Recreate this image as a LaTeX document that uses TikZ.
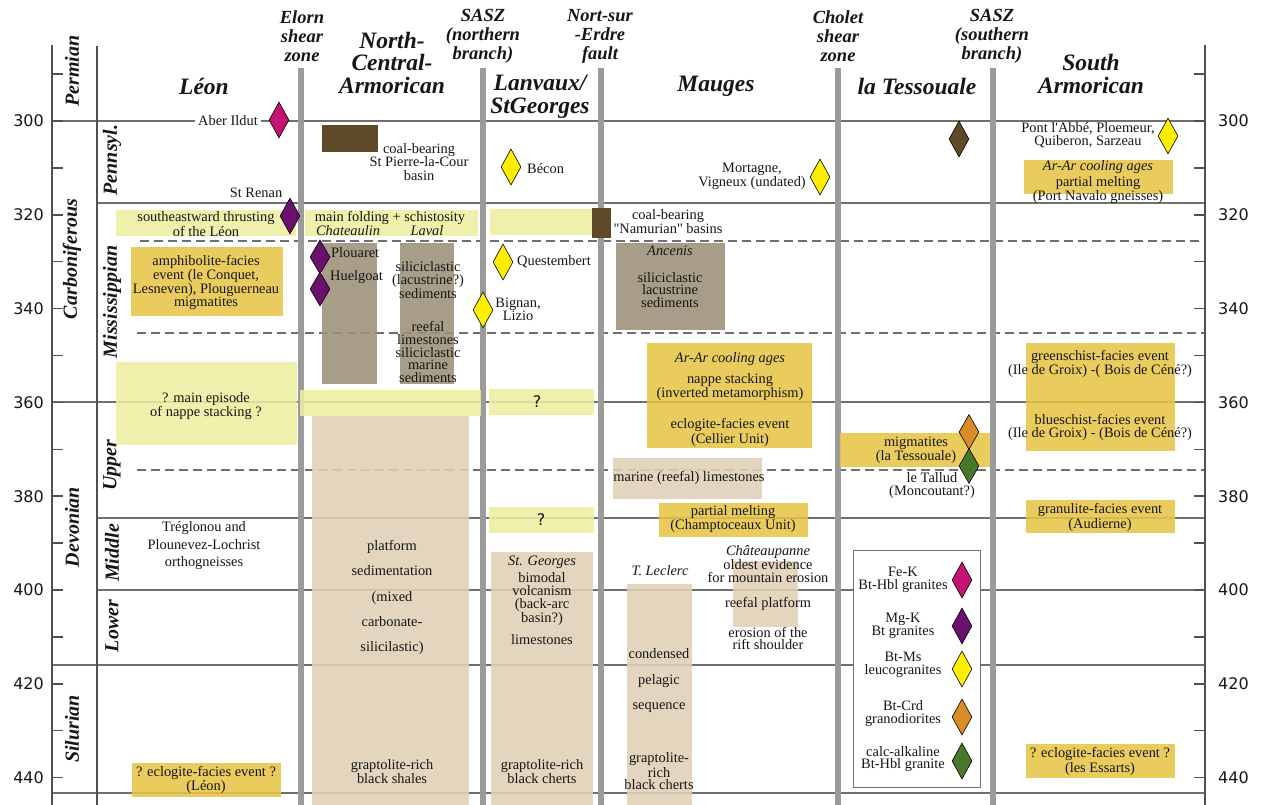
\documentclass[tikz,border=0pt]{standalone}
\usepackage{fontspec}
\setmainfont{Liberation Serif}
\newfontfamily\numfont{DejaVu Sans}
\usetikzlibrary{shapes.geometric}
\definecolor{lyel}{RGB}{236,238,160}
\definecolor{gold}{RGB}{232,196,72}
\definecolor{gbrown}{RGB}{157,144,120}
\definecolor{beige}{RGB}{224,208,182}
\definecolor{coal}{RGB}{94,74,40}
\definecolor{dmag}{RGB}{196,18,112}
\definecolor{dpur}{RGB}{106,16,110}
\definecolor{dyel}{RGB}{255,238,0}
\definecolor{dora}{RGB}{218,140,38}
\definecolor{dgre}{RGB}{70,122,42}
\definecolor{sepc}{RGB}{155,155,155}
\definecolor{hline}{RGB}{112,112,112}
\definecolor{axisc}{RGB}{80,80,80}
\definecolor{ink}{RGB}{22,22,22}
\begin{document}
\begin{tikzpicture}[x=1pt,y=-1pt,
 txt/.style={font=\fontsize{14.4}{12.8}\selectfont, align=center, inner sep=0pt, text=ink},
 itxt/.style={font=\fontsize{14.4}{12.8}\selectfont\itshape, align=center, inner sep=0pt, text=ink},
 hdr/.style={font=\fontsize{23.5}{22.5}\selectfont\bfseries\itshape, align=center, inner sep=0pt, text=ink},
 shdr/.style={font=\fontsize{18.5}{19}\selectfont\bfseries\itshape, align=center, inner sep=0pt, text=ink},
 per/.style={font=\fontsize{20}{20}\selectfont\bfseries\itshape, rotate=90, inner sep=0pt, text=ink},
 num/.style={font=\numfont\fontsize{16}{16}\selectfont, inner sep=0pt, text=ink},
 gem/.style={diamond, draw=black, line width=0.6pt, minimum width=20pt, minimum height=36pt, inner sep=0pt},
 hl/.style={draw=hline, line width=1.4pt},
 dl/.style={draw=hline, line width=1.3pt, dash pattern=on 9pt off 5pt},
 sepl/.style={draw=sepc, line width=5.5pt},
 bx/.style={fill opacity=0.88},
]
\useasboundingbox (0,0) rectangle (1261,805);
\fill[white] (0,0) rectangle (1261,805);
% horizontal lines
\draw[hl] (52,121) -- (1205,121);
\draw[hl] (97,203) -- (1205,203);
\draw[hl] (52,402) -- (1205,402);
\draw[hl] (97,518) -- (1205,518);
\draw[hl] (97,590) -- (1205,590);
\draw[hl] (52,665) -- (1205,665);
\draw[hl] (52,793) -- (1205,793);
\draw[dl] (140,241) -- (1205,241);
\draw[dl] (137,333) -- (1205,333);
\draw[dl] (137,470) -- (1205,470);
% separators
\foreach \sx in {301,483,601,838,993} \draw[sepl] (\sx,68) -- (\sx,805);
% boxes Leon
\fill[lyel,bx] (116,210) rectangle (296,236);
\fill[gold,bx] (131,247) rectangle (283,316);
\fill[lyel,bx] (116,362) rectangle (297,445);
\fill[gold,bx] (132,763) rectangle (281,797);
% NCA
\fill[coal] (322,125) rectangle (378,152);
\fill[lyel,bx] (305,210) rectangle (478,236);
\fill[gbrown,bx] (322,243) rectangle (377,384);
\fill[gbrown,bx] (400,243) rectangle (454,384);
\fill[lyel,bx] (300,390) rectangle (481,416);
\fill[beige,bx] (312,416) rectangle (469,805);
% Lanvaux
\fill[lyel,bx] (490,209) rectangle (592,235);
\fill[coal] (592,208) rectangle (611,238);
\fill[lyel,bx] (489,389) rectangle (594,415);
\fill[lyel,bx] (489,507) rectangle (594,533);
\fill[beige,bx] (491,552) rectangle (593,805);
% Mauges
\fill[gbrown,bx] (616,243) rectangle (725,330);
\fill[gold,bx] (647,343) rectangle (812,448);
\fill[beige,bx] (613,458) rectangle (762,499);
\fill[gold,bx] (659,503) rectangle (808,537);
\fill[beige,bx] (627,584) rectangle (692,805);
\fill[beige,bx] (733,561) rectangle (798,627);
% la Tessouale
\fill[gold,bx] (840,433) rectangle (990,467);
\draw[hline, line width=1pt, fill=white] (853,550) rectangle (980,787);
% South Armorican
\fill[gold,bx] (1024,160) rectangle (1173,194);
\fill[gold,bx] (1026,343) rectangle (1175,451);
\fill[gold,bx] (1026,500) rectangle (1175,533);
\fill[gold,bx] (1026,744) rectangle (1175,778);
% axes
\draw[axisc, line width=1.5pt] (52,45) -- (52,805);
\draw[axisc, line width=1.5pt] (97,46) -- (97,805);
\draw[axisc, line width=1.5pt] (1205,45) -- (1205,805);
\foreach \a in {290,300,...,440} {
  \draw[axisc, line width=1.5pt] (52,{121+(\a-300)*4.69}) -- (63,{121+(\a-300)*4.69});
  \draw[axisc, line width=1.5pt] (1194,{121+(\a-300)*4.69}) -- (1205,{121+(\a-300)*4.69});
}
\foreach \a in {300,320,...,440} {
  \node[num, anchor=east] (nl\a) at (44,{121+(\a-300)*4.69}) {\a};
  \node[num, anchor=west] (nr\a) at (1218,{121+(\a-300)*4.69}) {\a};
}
% period and epoch labels
\node[per] (pperm) at (72,71) {Permian};
\node[per] (pcarb) at (72,259) {Carboniferous};
\node[per] (pdev) at (72,527) {Devonian};
\node[per] (psil) at (72,729) {Silurian};
\node[per] (epen) at (112,160) {Pennsyl.};
\node[per] (emis) at (112,302) {Mississippian};
\node[per] (eup) at (112,465) {Upper};
\node[per] (emid) at (112,553) {Middle};
\node[per] (elow) at (112,626) {Lower};
% headers
\node[shdr] (helorn) at (302,36) {Elorn\\shear\\zone};
\node[hdr] (hnca) at (392,62.5) {North-\\Central-\\Armorican};
\node[hdr] (hleon) at (204,86) {Léon};
\node[shdr] (hsasz1) at (483,36) {SASZ\\(northern\\branch)};
\node[shdr] (hnort) at (600,36) {Nort-sur\\-Erdre\\fault};
\node[hdr] (hlan) at (540,97) {Lanvaux/\\StGeorges};
\node[hdr] (hmau) at (716,86) {Mauges};
\node[shdr] (hcho) at (838,36) {Cholet\\shear\\zone};
\node[hdr] (htes) at (917,86) {la Tessouale};
\node[shdr] (hsasz2) at (992,36) {SASZ\\(southern\\branch)};
\node[hdr] (hsouth) at (1091,74) {South\\Armorican};
% diamonds
\node[gem, fill=dmag] (daber) at (279,120) {};
\node[gem, fill=dpur] (dren) at (290,216) {};
\node[gem, fill=dpur, minimum height=34pt] (dplou1) at (320,257) {};
\node[gem, fill=dpur, minimum height=34pt] (dplou2) at (320,289) {};
\node[gem, fill=dyel] (dbecon) at (511,167) {};
\node[gem, fill=dyel] (dquest) at (503,262) {};
\node[gem, fill=dyel] (dbign) at (483,310) {};
\node[gem, fill=dyel] (dmort) at (820,177) {};
\node[gem, fill=coal] (dtes) at (959,139) {};
\node[gem, fill=dora, minimum height=35pt] (dora1) at (969,432) {};
\node[gem, fill=dgre, minimum height=35pt] (dgre1) at (969,466) {};
\node[gem, fill=dyel] (dpont) at (1168,136) {};
\node[gem, fill=dmag] (lg1) at (962,580) {};
\node[gem, fill=dpur] (lg2) at (962,626) {};
\node[gem, fill=dyel] (lg3) at (962,669) {};
\node[gem, fill=dora] (lg4) at (962,717) {};
\node[gem, fill=dgre] (lg5) at (962,761) {};
% Leon texts
\node[txt, fill=white, inner xsep=3pt, inner ysep=1pt] (taber) at (228,121) {Aber Ildut};
\node[txt] (tren) at (256,193) {St Renan};
\node[txt] (tse) at (206,224) {southeastward thrusting\\of the Léon};
\node[txt] (tam) at (206,282.5) {amphibolite-facies\\event (le Conquet,\\Lesneven), Plouguerneau\\migmatites};
\node[txt] (tnap) at (206,406) {? main episode\\of nappe stacking ?};
\node[txt, font=\fontsize{14.4}{17.5}\selectfont] (ttre) at (204,546) {Tréglonou and\\Plounevez-Lochrist\\orthogneisses};
\node[txt] (tecl) at (206,780) {? eclogite-facies event ?\\(Léon)};
% NCA texts
\node[txt, font=\fontsize{14.4}{13.8}\selectfont] (tcoal1) at (419,162) {coal-bearing\\St Pierre-la-Cour\\basin};
\node[txt] (tfold) at (390,218) {main folding + schistosity};
\node[itxt] (tchat) at (348,231) {Chateaulin};
\node[itxt] (tlav) at (427,231) {Laval};
\node[txt, anchor=west] (tplou) at (331,253) {Plouaret};
\node[txt, anchor=west] (thuel) at (330,277) {Huelgoat};
\node[txt] (tsil1) at (428,280) {siliciclastic\\(lacustrine?)\\sediments};
\node[txt] (treef) at (428,352) {reefal\\limestones\\siliciclastic\\marine\\sediments};
\node[txt, font=\fontsize{14.4}{25.2}\selectfont] (tplat) at (392,597.5) {platform\\sedimentation\\(mixed\\carbonate-\\silicilastic)};
\node[txt] (tgrap1) at (392,772) {graptolite-rich\\black shales};
% Lanvaux texts
\node[txt, anchor=west] (tbecon) at (527,169) {Bécon};
\node[txt, anchor=west] (tquest) at (517,262) {Questembert};
\node[txt] (tbign) at (518,309.5) {Bignan,\\Lizio};
\node[num] (tq1) at (537,402) {?};
\node[num] (tq2) at (541,520) {?};
\node[itxt] (tstg) at (542,562) {St. Georges};
\node[txt] (tbim) at (542,599) {bimodal\\volcanism\\(back-arc\\basin?)};
\node[txt] (tlime) at (542,640) {limestones};
\node[txt] (tgrap2) at (542,772) {graptolite-rich\\black cherts};
% Mauges texts
\node[txt] (tcoal2) at (668,222) {coal-bearing\\\textquotedbl Namurian\textquotedbl\ basins};
\node[itxt] (tanc) at (670,251) {Ancenis};
\node[txt] (tsil2) at (670,290) {siliciclastic\\lacustrine\\sediments};
\node[txt] (tmort) at (752,176.5) {Mortagne,\\Vigneux (undated)};
\node[itxt] (tarar1) at (730,359) {Ar-Ar cooling ages};
\node[txt] (tnap2) at (730,387) {nappe stacking\\(inverted metamorphism)};
\node[txt] (tecl2) at (730,432.5) {eclogite-facies event\\(Cellier Unit)};
\node[txt] (tmar) at (689,478) {marine (reefal) limestones};
\node[txt] (tpm) at (733,519) {partial melting\\(Champtoceaux Unit)};
\node[itxt] (ttl) at (660,571) {T. Leclerc};
\node[txt, font=\fontsize{14.4}{25.5}\selectfont] (tcond) at (659,681) {condensed\\pelagic\\sequence};
\node[txt] (tgrap3) at (659,771.5) {graptolite-\\rich\\black cherts};
\node[itxt] (tchp) at (768,552) {Châteaupanne};
\node[txt] (told) at (768,571) {oldest evidence\\for mountain erosion};
\node[txt] (treefp) at (768,604) {reefal platform};
\node[txt] (teros) at (768,638.5) {erosion of the\\rift shoulder};
% la Tessouale texts
\node[txt] (tmig) at (916,450) {migmatites\\(la Tessouale)};
\node[txt] (ttal) at (932,485.5) {le Tallud\\(Moncoutant?)};
\node[txt] (tlg1) at (903,579.5) {Fe-K\\Bt-Hbl granites};
\node[txt] (tlg2) at (903,625.5) {Mg-K\\Bt granites};
\node[txt] (tlg3) at (903,665) {Bt-Ms\\leucogranites};
\node[txt] (tlg4) at (903,713.5) {Bt-Crd\\granodiorites};
\node[txt] (tlg5) at (903,759) {calc-alkaline\\Bt-Hbl granite};
% South Armorican texts
\node[txt] (tpont) at (1088,135.5) {Pont l\textquotesingle Abbé, Ploemeur,\\Quiberon, Sarzeau};
\node[itxt] (tarar2) at (1098,167) {Ar-Ar cooling ages};
\node[txt] (tpm2) at (1098,190.5) {partial melting\\(Port Navalo gneisses)};
\node[txt] (tgs) at (1100,364) {greenschist-facies event\\(Ile de Groix) -( Bois de Céné?)};
\node[txt] (tbs) at (1100,427.5) {blueschist-facies event\\(Ile de Groix) - (Bois de Céné?)};
\node[txt] (tgr) at (1100,517.5) {granulite-facies event\\(Audierne)};
\node[txt] (tecl3) at (1100,761.5) {? eclogite-facies event ?\\(les Essarts)};
\end{tikzpicture}
\end{document}
